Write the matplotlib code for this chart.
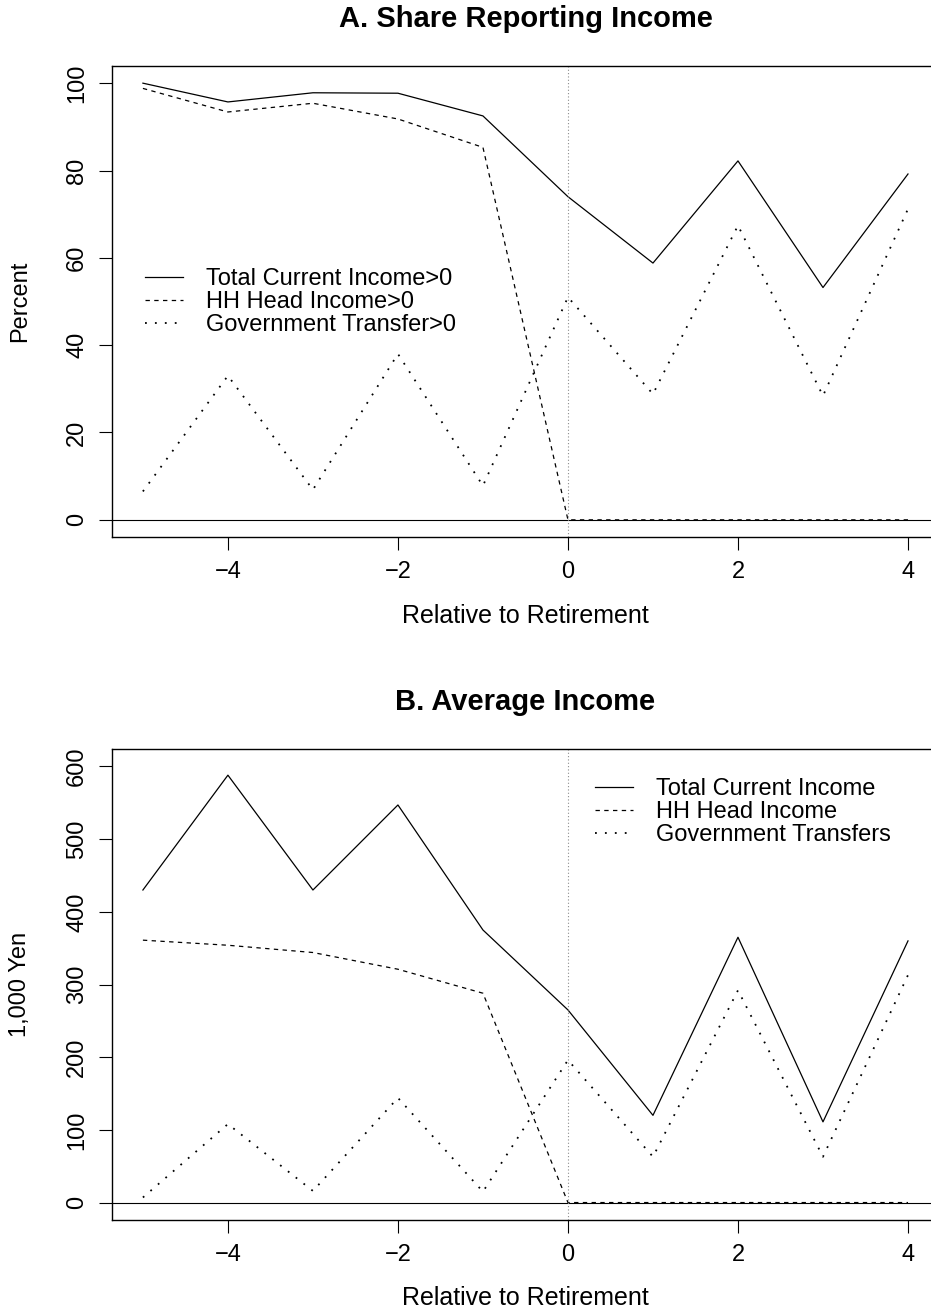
import matplotlib
matplotlib.use("Agg")
from matplotlib import pyplot as plt

plt.rcParams['font.family'] = ['Liberation Sans', 'DejaVu Sans']

years = [-5, -4, -3, -2, -1, 0, 1, 2, 3, 4]

# panel A: share reporting income (percent)
share_total = [100, 95.7, 97.8, 97.7, 92.5, 74.0, 58.8, 82.2, 53.2, 79.2]
share_head = [98.8, 93.4, 95.4, 91.8, 85.3, 0, 0, 0, 0, 0]
share_gov = [6.5, 33.0, 6.9, 38.0, 7.8, 51.0, 28.8, 67.4, 28.4, 71.2]

# panel B: average income (1,000 yen)
inc_total = [430, 588, 430, 547, 375, 265, 120, 365, 111, 360]
inc_head = [361, 354, 344, 321, 288, 0, 0, 0, 0, 0]
inc_gov = [7, 108, 16, 144, 15, 196, 63, 292, 63, 313]

labels_a = ["Total Current Income>0", "HH Head Income>0", "Government Transfer>0"]
labels_b = ["Total Current Income", "HH Head Income", "Government Transfers"]

W, H = 931, 1312
fig = plt.figure(figsize=(W / 100, H / 100), dpi=100)
left = 112.3 / W
width = (938.6 - 112.3) / W
axA = fig.add_axes([left, 1 - 537.3 / H, width, (537.3 - 65.7) / H])
axB = fig.add_axes([left, 1 - 1220 / H, width, (1220 - 749) / H])


def panel(ax, tot, head, gov, labels, title, ylabel, ylim, yticks, leg_anchor):
    lw = 0.9
    ax.plot(years, tot, color="black", lw=lw, label=labels[0])
    ax.plot(years, head, color="black", lw=lw, dashes=(3.5, 3.5), label=labels[1])
    ax.plot(years, gov, color="black", lw=1.3, dashes=(1.0, 4.5), label=labels[2])
    ax.axhline(0, color="black", lw=0.8)
    ax.axvline(0, color="0.55", lw=0.8, dashes=(1, 2))
    ax.set_xlim(-5.36, 4.36)
    ax.set_ylim(*ylim)
    ax.set_xticks([-4, -2, 0, 2, 4])
    ax.set_xticklabels(["\u22124", "\u22122", "0", "2", "4"])
    ax.set_yticks(yticks)
    ax.tick_params(direction="out", length=9.4, width=0.8, pad=8, labelsize=17)
    ax.tick_params(axis="y", labelrotation=90)
    for lab in ax.get_yticklabels():
        lab.set_va("center")
    for s in ax.spines.values():
        s.set_linewidth(1.0)
    ax.set_title(title, fontsize=21, fontweight="bold", pad=28)
    ax.set_xlabel("Relative to Retirement", fontsize=18)
    ax.xaxis.set_label_coords(0.5, -0.141)
    ax.set_ylabel(ylabel, fontsize=17)
    ax.yaxis.set_label_coords(-0.098, 0.5)
    ax.legend(loc="center left", bbox_to_anchor=leg_anchor, frameon=False,
              fontsize=17, borderpad=0, borderaxespad=0, labelspacing=0.05,
              handlelength=1.6, handletextpad=1.0)


panel(axA, share_total, share_head, share_gov, labels_a,
      "A. Share Reporting Income", "Percent", (-4, 104),
      [0, 20, 40, 60, 80, 100], (0.0396, 0.499))
panel(axB, inc_total, inc_head, inc_gov, labels_b,
      "B. Average Income", "1,000 Yen", (-24, 624),
      [0, 100, 200, 300, 400, 500, 600], (0.584, 0.866))

fig.savefig("out.png", dpi=100)
